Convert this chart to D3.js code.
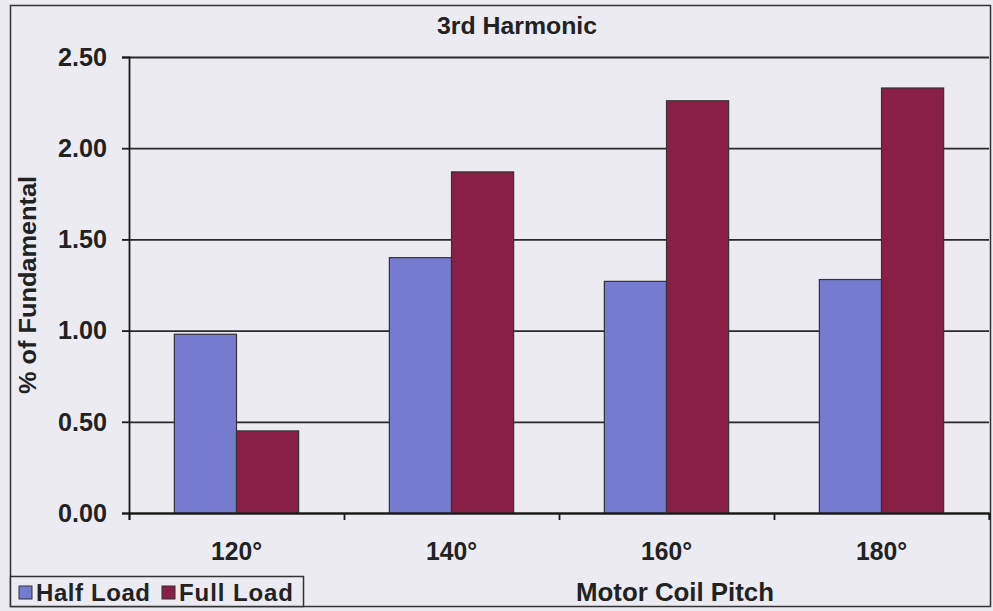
<!DOCTYPE html>
<html>
<head>
<meta charset="utf-8">
<script src="https://cdn.jsdelivr.net/npm/d3@7"></script>
<style>
  body { margin: 0; background: #ebebf1; }
  text { font-family: "Liberation Sans", Arial, sans-serif; font-weight: bold; fill: #222; }
</style>
</head>
<body>
<div id="chart"></div>
<script>
// data
var categories = ["120°", "140°", "160°", "180°"];
var seriesNames = ["Half Load", "Full Load"];
var halfLoad = [0.98, 1.40, 1.27, 1.28];
var fullLoad = [0.45, 1.87, 2.26, 2.33];
var yTicks = [0, 0.5, 1.0, 1.5, 2.0, 2.5];

var width = 993, height = 611;
var plot = {left: 129, right: 989, top: 57, bottom: 513};
var colors = ["#777bd0", "#8a1f45"];

var svg = d3.select("#chart")
    .append("svg")
    .attr("width", width)
    .attr("height", height);

svg.append("rect")
    .attr("x", 0).attr("y", 0)
    .attr("width", width).attr("height", height)
    .attr("fill", "#ebebf1");

// outer frame
svg.append("rect")
    .attr("x", 10.5).attr("y", 5.5)
    .attr("width", 980).attr("height", 601)
    .attr("fill", "none")
    .attr("stroke", "#333")
    .attr("stroke-width", 1.5);

var xBand = d3.scaleBand().domain(categories).range([plot.left, plot.right]);
var xEdge = d3.scaleLinear().domain([0, categories.length]).range([plot.left, plot.right]);
var xInner = d3.scaleBand().domain(seriesNames).range([0, xBand.bandwidth()]).paddingOuter(0.73);
var yScale = d3.scaleLinear().domain([0, 2.5]).range([plot.bottom, plot.top]);

// gridlines
svg.append("g")
    .attr("transform", "translate(" + plot.left + ",0)")
    .call(d3.axisLeft(yScale).tickValues(yTicks).tickSize(-(plot.right - plot.left)).tickFormat(""))
    .call(function(g) {
        g.select(".domain").remove();
        g.selectAll("line").attr("stroke", "#2a2a2a").attr("stroke-width", 1.8);
    });

// bars
var rows = categories.map(function(c, i) {
    return {cat: c, values: [halfLoad[i], fullLoad[i]]};
});

svg.append("g")
    .selectAll("g")
    .data(rows)
    .enter()
    .append("g")
    .attr("transform", function(d) { return "translate(" + xBand(d.cat) + ",0)"; })
    .selectAll("rect")
    .data(function(d) { return d.values; })
    .enter()
    .append("rect")
    .attr("x", function(d, i) { return xInner(seriesNames[i]); })
    .attr("y", function(d) { return yScale(d); })
    .attr("width", xInner.bandwidth())
    .attr("height", function(d) { return yScale(0) - yScale(d); })
    .attr("fill", function(d, i) { return colors[i]; })
    .attr("stroke", "#333")
    .attr("stroke-width", 1.2);

// y axis
svg.append("g")
    .attr("transform", "translate(" + plot.left + ",0)")
    .call(d3.axisLeft(yScale).tickValues(yTicks).tickSize(7).tickPadding(15).tickFormat(d3.format(".2f")))
    .call(function(g) {
        g.select(".domain").attr("stroke", "#1a1a1a").attr("stroke-width", 1.8);
        g.selectAll("line").attr("stroke", "#1a1a1a").attr("stroke-width", 1.8);
        g.selectAll("text")
            .style("font-family", "'Liberation Sans', Arial, sans-serif")
            .style("font-weight", "bold")
            .attr("font-size", 26)
            .attr("textLength", 49)
            .attr("lengthAdjust", "spacingAndGlyphs")
            .attr("fill", "#222");
    });

// x axis: ticks at band edges
svg.append("g")
    .attr("transform", "translate(0," + plot.bottom + ")")
    .call(d3.axisBottom(xEdge).tickValues(d3.range(categories.length + 1)).tickSize(7).tickFormat(""))
    .call(function(g) {
        g.select(".domain").attr("stroke", "#1a1a1a").attr("stroke-width", 1.8);
        g.selectAll("line").attr("stroke", "#1a1a1a").attr("stroke-width", 1.8);
    });

svg.append("g")
    .attr("transform", "translate(0," + plot.bottom + ")")
    .call(d3.axisBottom(xBand).tickSize(0).tickPadding(29))
    .call(function(g) {
        g.select(".domain").remove();
        g.selectAll("text")
            .style("font-family", "'Liberation Sans', Arial, sans-serif")
            .style("font-weight", "bold")
            .attr("font-size", 26)
            .attr("textLength", 51)
            .attr("lengthAdjust", "spacingAndGlyphs")
            .attr("fill", "#222");
    });

// title
svg.append("text")
    .attr("x", 517).attr("y", 34)
    .attr("text-anchor", "middle")
    .attr("font-size", 23)
    .attr("textLength", 160)
    .attr("lengthAdjust", "spacingAndGlyphs")
    .text("3rd Harmonic");

// axis titles
svg.append("text")
    .attr("x", 675).attr("y", 601)
    .attr("text-anchor", "middle")
    .attr("font-size", 25)
    .attr("textLength", 198)
    .attr("lengthAdjust", "spacingAndGlyphs")
    .text("Motor Coil Pitch");

svg.append("text")
    .attr("transform", "translate(36,285) rotate(-90)")
    .attr("text-anchor", "middle")
    .attr("font-size", 24)
    .attr("textLength", 218)
    .attr("lengthAdjust", "spacingAndGlyphs")
    .text("% of Fundamental");

// legend
var legend = svg.append("g");
legend.append("rect")
    .attr("x", 10.5).attr("y", 576.5)
    .attr("width", 293).attr("height", 30)
    .attr("fill", "#ebebf1")
    .attr("stroke", "#333")
    .attr("stroke-width", 1.5);

var legendX = [19, 162];
var legendItems = legend.selectAll("g.item")
    .data(seriesNames)
    .enter()
    .append("g")
    .attr("class", "item")
    .attr("transform", function(d, i) { return "translate(" + legendX[i] + ",584)"; });

legendItems.append("rect")
    .attr("width", 13).attr("height", 13)
    .attr("y", 2)
    .attr("fill", function(d, i) { return colors[i]; })
    .attr("stroke", "#333")
    .attr("stroke-width", 1);

legendItems.append("text")
    .attr("x", 17).attr("y", 17)
    .attr("font-size", 24)
    .attr("textLength", 114)
    .attr("lengthAdjust", "spacing")
    .text(function(d) { return d; });
</script>
</body>
</html>
